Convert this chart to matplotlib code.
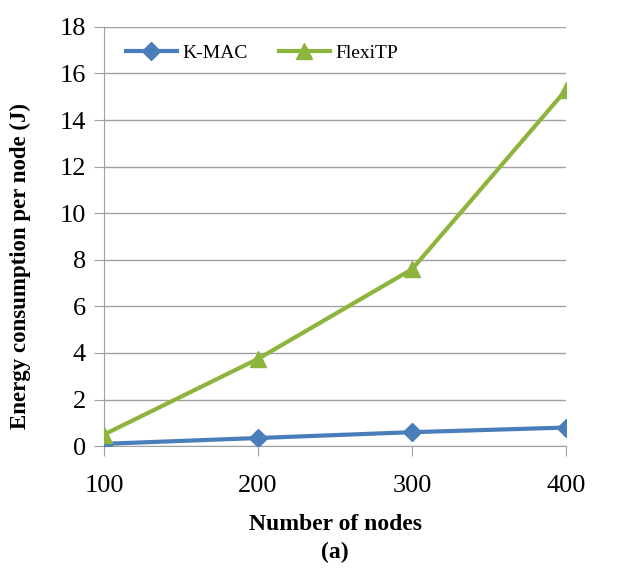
import matplotlib.pyplot as plt

plt.rcParams['font.family'] = ['Liberation Serif', 'DejaVu Serif']

nodes = [100, 200, 300, 400]
kmac = [0.1, 0.35, 0.6, 0.8]
flexitp = [0.5, 3.75, 7.6, 15.3]

fig, ax = plt.subplots(figsize=(6.27, 5.72), dpi=100)
fig.subplots_adjust(left=0.166, right=0.903, top=0.953, bottom=0.22)

ax.plot(nodes, kmac, color='#4a7ebb', lw=3, marker='D', ms=9, label='K-MAC', zorder=3)
ax.plot(nodes, flexitp, color='#8db43c', lw=3, marker='^', ms=11, label='FlexiTP', zorder=3)

ax.set_xlim(100, 400)
ax.set_ylim(0, 18)
ax.set_xticks(nodes)
ax.set_yticks(range(0, 19, 2))
ax.yaxis.grid(True, color='#a0a0a0', lw=1)
ax.set_axisbelow(True)
for s in ['top', 'right']:
    ax.spines[s].set_visible(False)
ax.spines['left'].set_color('#a0a0a0')
ax.spines['bottom'].set_color('#a0a0a0')
ax.tick_params(axis='both', colors='#a0a0a0', labelcolor='black', labelsize=19, length=7)
ax.tick_params(axis='x', pad=14)
ax.tick_params(axis='y', pad=6)

ax.set_ylabel('Energy consumption per node (J)', fontsize=16.5, fontweight='bold')
ax.yaxis.set_label_coords(-0.158, 0.43)
ax.set_xlabel('Number of nodes\n(a)', fontsize=17, fontweight='bold', linespacing=1.45, labelpad=12)

ax.legend(loc='upper left', ncol=2, frameon=False, fontsize=14, handlelength=2.6,
          bbox_to_anchor=(0.01, 1.0), columnspacing=1.6, handletextpad=0.3)

plt.savefig('out.png')
